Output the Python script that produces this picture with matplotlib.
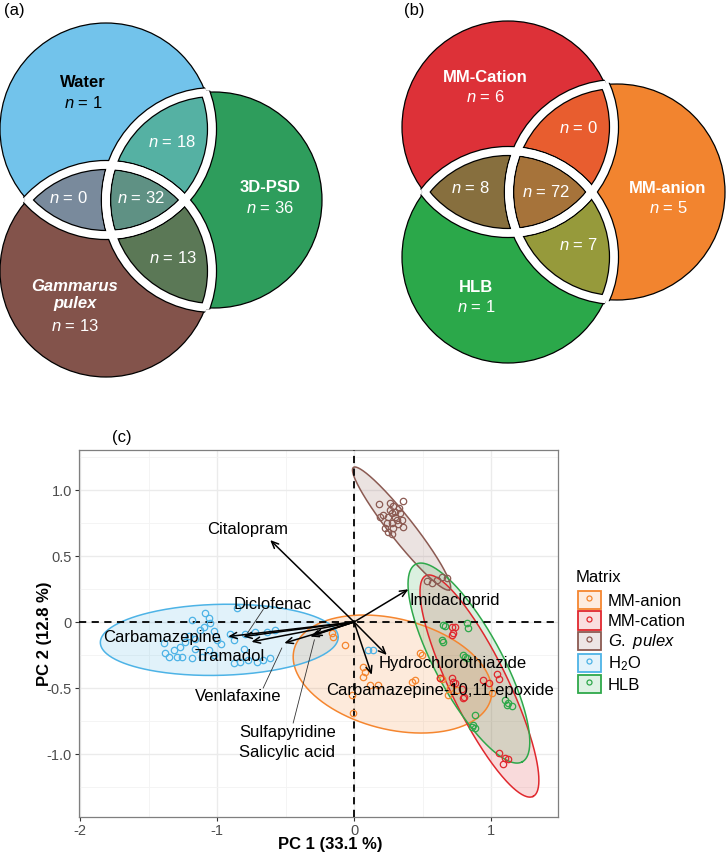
import numpy as np
import matplotlib
matplotlib.use('Agg')
import matplotlib.pyplot as plt
from matplotlib.patches import Circle, Polygon, Patch
from matplotlib.lines import Line2D
from matplotlib.legend_handler import HandlerTuple
from matplotlib.colors import to_rgba

plt.rcParams['font.family'] = ['Liberation Sans', 'DejaVu Sans']
plt.rcParams['mathtext.fontset'] = 'custom'
plt.rcParams['mathtext.rm'] = 'Liberation Sans'
plt.rcParams['mathtext.it'] = 'Liberation Sans:italic'
plt.rcParams['mathtext.bf'] = 'Liberation Sans:bold'

# ---- Venn data: sets A (top left), B (right), C (bottom left)
# region order: A, B, C, AB, AC, BC, ABC
venn_a_names = ['Water', '3D-PSD', 'Gammarus\npulex']
venn_a_counts = [1, 36, 13, 18, 0, 13, 32]
venn_a_colors = ['#72C3EB', '#2E9D5C', '#83534B', '#55B1A3', '#798A9C', '#5B7856', '#5F9184']

venn_b_names = ['MM-Cation', 'MM-anion', 'HLB']
venn_b_counts = [6, 5, 1, 0, 8, 7, 72]
venn_b_colors = ['#DD3138', '#F2842F', '#2BA84A', '#E85D2F', '#876F3E', '#969A3B', '#A6733A']

# ---- PCA scores
anion_pc1 = [-0.163, -0.151, -0.066, -0.017, -0.005, 0.068, 0.080, 0.068, 0.117, 0.177,
             0.445, 0.421, 0.482, 0.494, 0.628, 0.640, 0.700, 0.750, 0.686, 1.005]
anion_pc2 = [-0.086, -0.111, -0.174, -0.553, -0.690, -0.339, -0.376, -0.414, -0.477, -0.477,
             -0.439, -0.452, -0.237, -0.250, -0.424, -0.430, -0.500, -0.515, -0.553, -0.540]

cation_pc1 = [0.713, 0.737, 0.725, 0.713, 0.713, 0.737, 0.786, 0.798, 0.939, 0.988,
              1.046, 1.061, 1.061, 1.102, 1.127, 1.085, 0.628, 0.725, 0.800]
cation_pc2 = [-0.035, -0.035, -0.086, -0.098, -0.422, -0.465, -0.510, -0.578, -0.439, -0.465,
              -0.394, -0.430, -0.995, -1.033, -1.040, -1.076, -0.427, -0.452, -0.570]

gp_pc1 = [0.185, 0.263, 0.287, 0.360, 0.331, 0.214, 0.250, 0.275, 0.299, 0.336, 0.311, 0.348,
          0.238, 0.275, 0.226, 0.287, 0.360, 0.250, 0.280, 0.190, 0.299, 0.324, 0.263,
          0.606, 0.642, 0.679, 0.533, 0.569]
gp_pc2 = [0.891, 0.899, 0.879, 0.919, 0.861, 0.811, 0.798, 0.823, 0.836, 0.823, 0.773, 0.773,
          0.748, 0.748, 0.710, 0.710, 0.722, 0.684, 0.667, 0.798, 0.798, 0.742, 0.848,
          0.318, 0.341, 0.333, 0.311, 0.295]

h2o_pc1 = [-1.185, -1.088, -1.063, -1.051, -1.392, -1.380, -1.355, -1.319, -1.294, -1.270,
           -1.234, -1.209, -1.161, -1.124, -1.095, -1.027, -0.998, -0.973, -1.112, -1.185,
           -0.905, -0.852, -0.796, -0.723, -0.637, -0.577, -0.808, -0.772, -0.881, -0.832,
           -0.710, -0.662, -0.613, -1.063, -1.258, -1.161, -1.027, -0.881, 0.100, 0.140]
h2o_pc2 = [0.015, 0.066, 0.028, -0.010, -0.162, -0.237, -0.263, -0.212, -0.268, -0.192,
           -0.149, -0.106, -0.131, -0.061, -0.035, -0.066, -0.136, -0.167, -0.263, -0.275,
           -0.091, 0.104, -0.091, -0.073, -0.073, -0.061, -0.207, -0.288, -0.313, -0.300,
           -0.300, -0.288, -0.275, -0.212, -0.263, -0.207, -0.250, -0.136, -0.210, -0.210]

hlb_pc1 = [0.652, 0.664, 0.823, 0.835, 0.640, 0.652, 0.798, 0.810, 0.823, 1.102, 1.127,
           1.151, 1.114, 0.883, 0.871, 0.859, 0.883]
hlb_pc2 = [-0.023, -0.030, -0.005, -0.048, -0.136, -0.149, -0.250, -0.263, -0.275, -0.590,
           -0.616, -0.636, -0.629, -0.705, -0.780, -0.793, -0.805]

groups = ['MM-anion', 'MM-cation', 'G. pulex', 'H2O', 'HLB']
legend_labels = ['MM-anion', 'MM-cation', r'$\it{G.\ pulex}$', r'H$_2$O', 'HLB']
group_colors = ['#F5862F', '#E0282E', '#8B5A52', '#4DB3E6', '#2EA84A']
scores = [(anion_pc1, anion_pc2), (cation_pc1, cation_pc2), (gp_pc1, gp_pc2),
          (h2o_pc1, h2o_pc2), (hlb_pc1, hlb_pc2)]

# 95 % ellipses: centre and two half-axis vectors (PC1, PC2)
ell_center = [(0.281, -0.394), (0.916, -0.485), (0.347, 0.708), (-0.985, -0.135), (0.839, -0.311)]
ell_u = [(0.726, -0.129), (0.392, -0.836), (0.352, -0.463), (0.869, 0.020), (0.390, -0.748)]
ell_v = [(0.0, -0.428), (0.187, 0.095), (0.0688, 0.0563), (0.0, 0.269), (0.214, 0.120)]

# loadings (arrow tips) and label positions
load_names = ['Citalopram', 'Imidacloprid', 'Hydrochlorothiazide', 'Carbamazepine-10,11-epoxide',
              'Carbamazepine', 'Diclofenac', 'Tramadol', 'Venlafaxine', 'Sulfapyridine', 'Salicylic acid']
load_pc1 = [-0.613, 0.397, 0.239, 0.129, -0.92, -0.81, -0.75, -0.51, -0.32, -0.30]
load_pc2 = [0.621, 0.248, -0.250, -0.400, -0.11, -0.11, -0.15, -0.16, -0.11, -0.10]
lab_x = [-0.777, 0.737, 0.719, 0.628, -1.404, -0.595, -0.905, -0.844, -0.482, -0.489]
lab_y = [0.702, 0.161, -0.311, -0.515, -0.116, 0.136, -0.258, -0.566, -0.838, -0.990]
# thin leader segments (start near label, end near arrow tip)
leaders = [((-0.664, 0.095), (-0.78, -0.085)),
           ((-0.664, -0.50), (-0.528, -0.197)),
           ((-0.445, -0.765), (-0.29, -0.135))]


def lens(c1, c2, r1, r2, n=600):
    t = np.linspace(0, 2 * np.pi, n)
    pts = []
    for ca, ra, cb, rb in ((c1, r1, c2, r2), (c2, r2, c1, r1)):
        p = np.c_[ca[0] + ra * np.cos(t), ca[1] + ra * np.sin(t)]
        keep = np.hypot(p[:, 0] - cb[0], p[:, 1] - cb[1]) <= rb
        pts.append(p[keep])
    pts = np.vstack(pts)
    m = pts.mean(axis=0)
    return pts[np.argsort(np.arctan2(pts[:, 1] - m[1], pts[:, 0] - m[0]))]


def venn(ax, centers, radii, colors):
    circ = [Circle(c, r, transform=ax.transData) for c, r in zip(centers, radii)]
    big = [Circle(c, r + 1.5, transform=ax.transData) for c, r in zip(centers, radii)]
    for c, r, col in zip(centers, radii, colors[:3]):
        ax.add_patch(Circle(c, r, fc=col, ec='none', zorder=1))
    for i, j, k in ((0, 1, 3), (0, 2, 4), (1, 2, 5)):
        p = Circle(centers[j], radii[j], fc=colors[k], ec='none', zorder=2)
        ax.add_patch(p)
        p.set_clip_path(circ[i])
    tri = Polygon(lens(centers[0], centers[2], radii[0], radii[2]), closed=True,
                  fc=colors[6], ec='none', zorder=3)
    ax.add_patch(tri)
    tri.set_clip_path(circ[1])
    for c, r in zip(centers, radii):
        ax.add_patch(Circle(c, r, fill=False, ec='black', lw=0.9, zorder=4))
    for lw, col, z in ((7.4, 'black', 5), (5.6, 'white', 6)):
        for i in range(3):
            for j in range(3):
                if i != j:
                    b = Circle(centers[i], radii[i], fill=False, ec=col, lw=lw, zorder=z)
                    ax.add_patch(b)
                    b.set_clip_path(big[j])


def venn_text(ax, names, counts, name_pos, n_pos, colors):
    for k in range(3):
        ax.text(*name_pos[k], names[k], ha='center', va='center', fontsize=12,
                fontweight='bold', color=colors[k], zorder=7,
                fontstyle='italic' if '\n' in names[k] else 'normal')
    for k in range(7):
        ax.text(*n_pos[k], r'$\it{n}$ = %d' % counts[k], ha='center', va='center',
                fontsize=12, color=colors[k] if k < 3 else 'white', zorder=7)


fig = plt.figure(figsize=(7.27, 8.56), dpi=100)
ax0 = fig.add_axes([0, 0, 1, 1])
ax0.set_xlim(0, 727)
ax0.set_ylim(856, 0)
ax0.axis('off')

# (a)
venn(ax0, [(106, 129), (214, 200), (106, 271)], [106, 108, 106], venn_a_colors)
venn_text(ax0, venn_a_names, venn_a_counts,
          [(83, 82), (270, 187), (75, 295)],
          [(83, 103), (270, 208), (75, 326), (172, 142), (68, 198), (173, 258), (141, 198)],
          ['black', 'white', 'white'])
# (b)
venn(ax0, [(508, 127), (617, 192), (508, 257)], [106, 108, 106], venn_b_colors)
venn_text(ax0, venn_b_names, venn_b_counts,
          [(485, 77), (668, 188), (476, 287)],
          [(485, 97), (668, 208), (476, 307), (578, 128), (470, 188), (578, 245), (546, 192)],
          ['white', 'white', 'white'])

ax0.text(4, 10, '(a)', fontsize=12, va='center', ha='left')
ax0.text(404, 10, '(b)', fontsize=12, va='center', ha='left')
ax0.text(112, 437, '(c)', fontsize=12, va='center', ha='left')

# (c) PCA biplot
ax = fig.add_axes([79 / 727, 1 - 817 / 856, 479 / 727, 367 / 856])
ax.set_xlim(-2.01, 1.49)
ax.set_ylim(-1.477, 1.303)
ax.set_xticks([-2, -1, 0, 1])
ax.set_xticklabels(['-2', '-1', '0', '1'])
ax.set_xticks([-1.5, -0.5, 0.5], minor=True)
ax.set_yticks([-1.0, -0.5, 0, 0.5, 1.0])
ax.set_yticklabels(['-1.0', '-0.5', '0', '0.5', '1.0'])
ax.set_yticks([-1.25, -0.75, -0.25, 0.25, 0.75, 1.25], minor=True)
ax.grid(which='major', color='#EBEBEB', lw=1.0)
ax.grid(which='minor', color='#F3F3F3', lw=0.6)
ax.set_axisbelow(True)
ax.tick_params(which='major', length=3, width=0.8, color='#333333', labelsize=10.5,
               labelcolor='#4D4D4D', pad=2)
ax.tick_params(which='minor', length=0)
for s in ax.spines.values():
    s.set_color('#7F7F7F')
    s.set_linewidth(0.9)

t = np.linspace(0, 2 * np.pi, 300)
for (cx, cy), (ux, uy), (vx, vy), col in zip(ell_center, ell_u, ell_v, group_colors):
    ex = cx + ux * np.cos(t) + vx * np.sin(t)
    ey = cy + uy * np.cos(t) + vy * np.sin(t)
    ax.fill(ex, ey, color=col, alpha=0.17, lw=0, zorder=2)
    ax.plot(ex, ey, color=col, lw=1.1, zorder=2.5)

ax.axhline(0, color='black', ls=(0, (4, 3)), lw=1.3, zorder=3)
ax.axvline(0, color='black', ls=(0, (4, 3)), lw=1.3, zorder=3)

for (px, py), col in zip(scores, group_colors):
    ax.plot(px, py, ls='', marker='o', ms=4.6, mfc='none', mec=col, mew=0.9, zorder=4)

for x, y in zip(load_pc1, load_pc2):
    ax.annotate('', xy=(x, y), xytext=(0, 0), zorder=5,
                arrowprops=dict(arrowstyle='->,head_length=0.5,head_width=0.22',
                                color='black', lw=1.1, shrinkA=0, shrinkB=0))
for (a, b) in leaders:
    ax.plot([a[0], b[0]], [a[1], b[1]], color='#333333', lw=0.6, zorder=5)
for name, x, y in zip(load_names, lab_x, lab_y):
    ax.text(x, y, name, ha='center', va='center', fontsize=12, color='black', zorder=6)

fig.text(330 / 727, 1 - 845 / 856, 'PC 1 (33.1 %)', ha='center', va='center',
         fontsize=12, fontweight='bold')
fig.text(45 / 727, 1 - 634 / 856, 'PC 2 (12.8 %)', ha='center', va='center',
         fontsize=12, fontweight='bold', rotation=90)

# legend: title as separate text so the gap below it can match
fig.text(576 / 727, 1 - 577 / 856, 'Matrix', ha='left', va='center', fontsize=12)
handles = [(Patch(fc=to_rgba(c, 0.15), ec=c, lw=1.3),
            Line2D([], [], ls='', marker='o', mfc='none', mec=c, ms=3.6, mew=0.9))
           for c in group_colors]
ax.legend(handles, legend_labels, handler_map={tuple: HandlerTuple(ndivide=1, pad=0)},
          loc='upper left', bbox_to_anchor=(578 / 727, 1 - 591 / 856), bbox_transform=fig.transFigure,
          frameon=False, fontsize=12, handlelength=1.35, handleheight=1.3,
          labelspacing=0.13, handletextpad=0.45, borderpad=0, borderaxespad=0)

fig.savefig('out.png', dpi=100)
